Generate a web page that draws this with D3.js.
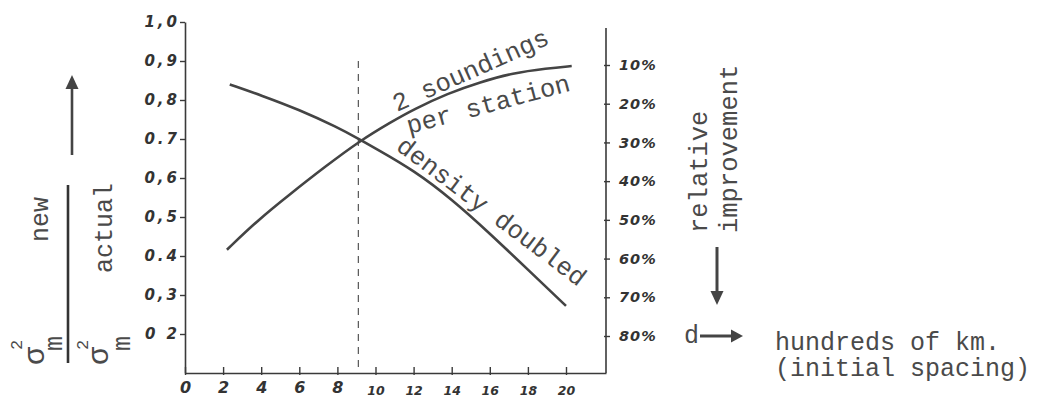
<!DOCTYPE html>
<html><head><meta charset="utf-8">
<script src="https://cdn.jsdelivr.net/npm/d3@7"></script>
<style>
body{margin:0;background:#fff}
.typed{font-family:"Liberation Mono","DejaVu Sans Mono",monospace;fill:#4a4a4a}
.hand{font-family:"DejaVu Sans",sans-serif;font-style:italic;font-weight:bold;fill:#333}
</style>
</head><body>
<svg id="chart" width="1047" height="396"></svg>
<script>
// ---- data ----
const xTicks = [0, 2, 4, 6, 8, 10, 12, 14, 16, 18, 20];
const yTicks = [1.0, 0.9, 0.8, 0.7, 0.6, 0.5, 0.4, 0.3, 0.2];
const yTickLabels = ["1,0", "0,9", "0,8", "0.7", "0,6", "0,5", "0.4", "0,3", "0 2"];
const rightTicks = [10, 20, 30, 40, 50, 60, 70, 80];
const rightTickLabels = ["10%", "20%", "30%", "40%", "50%", "60%", "70%", "80%"];
// "2 soundings per station"
const soundingsX = [2.2, 3.8, 5.55, 7.3, 9.2, 10.8, 12.0, 13.8, 15.5, 17.2, 19.0, 20.3];
const soundingsY = [0.416, 0.491, 0.560, 0.627, 0.696, 0.743, 0.776, 0.817, 0.846, 0.869, 0.881, 0.887];
// "density doubled"
const doubledX = [2.35, 4.0, 6.0, 8.0, 9.2, 10.0, 12.0, 14.0, 16.0, 18.0, 20.0];
const doubledY = [0.840, 0.812, 0.775, 0.730, 0.698, 0.676, 0.620, 0.546, 0.458, 0.365, 0.272];
const crossX = 9.1;
const crossTop = 0.9;

// ---- scales ----
const svg = d3.select("#chart");
const x = d3.scaleLinear().domain([0, 22.1]).range([185, 606]);
const y = d3.scaleLinear().domain([0.1, 1.0]).range([373, 22]);
const yR = d3.scaleLinear().domain([10, 80]).range([65, 336]);
const ink = "#3a3a3a";

// left axis
const gL = svg.append("g").attr("transform", `translate(${x(0)},0)`)
  .call(d3.axisLeft(y).tickValues(yTicks).tickFormat((d, i) => yTickLabels[i]).tickSizeInner(5).tickSizeOuter(0).tickPadding(3));
gL.select(".domain").attr("stroke", ink).attr("stroke-width", 1.6);
gL.selectAll(".tick line").attr("stroke", ink).attr("stroke-width", 1.4);
gL.selectAll(".tick text").attr("class", "hand").attr("font-size", 15).attr("letter-spacing", 3).attr("dx", 3);

// bottom axis
const gB = svg.append("g").attr("transform", `translate(0,${y(0.1)})`)
  .call(d3.axisBottom(x).tickValues(xTicks).tickSizeInner(-6).tickSizeOuter(0).tickPadding(9));
gB.select(".domain").attr("stroke", ink).attr("stroke-width", 1.6);
gB.selectAll(".tick line").attr("stroke", ink).attr("stroke-width", 1.4).attr("y1", 2);
gB.selectAll(".tick text").attr("class", "hand")
  .attr("font-size", d => d < 10 ? 16 : 12.5)
  .attr("dy", d => d < 10 ? "0.71em" : "1.0em");

// right axis
svg.append("line").attr("x1", x(22.1)).attr("x2", x(22.1)).attr("y1", 28).attr("y2", y(0.1))
  .attr("stroke", ink).attr("stroke-width", 1.6);
const gR = svg.append("g").attr("transform", `translate(${x(22.1)},0)`)
  .call(d3.axisRight(yR).tickValues(rightTicks).tickFormat((d, i) => rightTickLabels[i]).tickSizeInner(4).tickSizeOuter(0).tickPadding(9));
gR.select(".domain").remove();
gR.selectAll(".tick line").attr("stroke", ink).attr("stroke-width", 1.4).attr("x1", -2);
gR.selectAll(".tick text").attr("class", "hand").attr("font-size", 14.5).attr("letter-spacing", 1);

// dashed vertical line
svg.append("line").attr("x1", x(crossX)).attr("x2", x(crossX)).attr("y1", y(crossTop)).attr("y2", y(0.1))
  .attr("stroke", "#555").attr("stroke-width", 1.2).attr("stroke-dasharray", "7,6");

// curves
const line = d3.line().x(d => x(d[0])).y(d => y(d[1])).curve(d3.curveBasis);
svg.append("path").datum(d3.zip(soundingsX, soundingsY)).attr("d", line)
  .attr("fill", "none").attr("stroke", "#444").attr("stroke-width", 2.6);
svg.append("path").datum(d3.zip(doubledX, doubledY)).attr("d", line)
  .attr("fill", "none").attr("stroke", "#444").attr("stroke-width", 2.6);

// curve labels
function typed(txt, tx, ty, rot, fs) {
  return svg.append("text").attr("class", "typed").attr("font-size", fs)
    .attr("transform", `translate(${tx},${ty}) rotate(${rot})`).text(txt);
}
typed("2 soundings", 397, 112, -24, 25.5);
typed("per station", 409, 134, -15, 25.5);
typed("density doubled", 395, 149, 37, 25.5);

// left ratio label
typed("new", 48, 242, -90, 25);
typed("actual", 112, 273, -90, 25);
typed("σ", 44, 365, -90, 30);
typed("2", 22, 350, -90, 17);
typed("m", 62, 351, -90, 25);
typed("σ", 108, 365, -90, 30);
typed("2", 88, 350, -90, 17);
typed("m", 130, 351, -90, 25);
svg.append("line").attr("x1", 68).attr("x2", 68).attr("y1", 185).attr("y2", 363)
  .attr("stroke", "#333").attr("stroke-width", 2.6);

// up arrow
svg.append("line").attr("x1", 72).attr("x2", 72).attr("y1", 155).attr("y2", 86)
  .attr("stroke", "#444").attr("stroke-width", 2.6);
svg.append("path").attr("d", "M72,75 L65.5,89 L78.5,89 Z").attr("fill", "#444");

// right labels
typed("relative", 707, 233, -90, 25.5);
typed("improvement", 737, 233, -90, 25.5);
svg.append("line").attr("x1", 717).attr("x2", 717).attr("y1", 247).attr("y2", 294)
  .attr("stroke", "#444").attr("stroke-width", 3);
svg.append("path").attr("d", "M717,305 L710.5,291 L723.5,291 Z").attr("fill", "#444");

// d arrow and units
typed("d", 684, 343, 0, 25);
svg.append("line").attr("x1", 700).attr("x2", 733).attr("y1", 336).attr("y2", 336)
  .attr("stroke", "#444").attr("stroke-width", 3);
svg.append("path").attr("d", "M743,336 L731,329.5 L731,342.5 Z").attr("fill", "#444");
typed("hundreds of km.", 775, 350, 0, 25);
typed("(initial spacing)", 775, 376, 0, 25);
</script>
</body></html>
